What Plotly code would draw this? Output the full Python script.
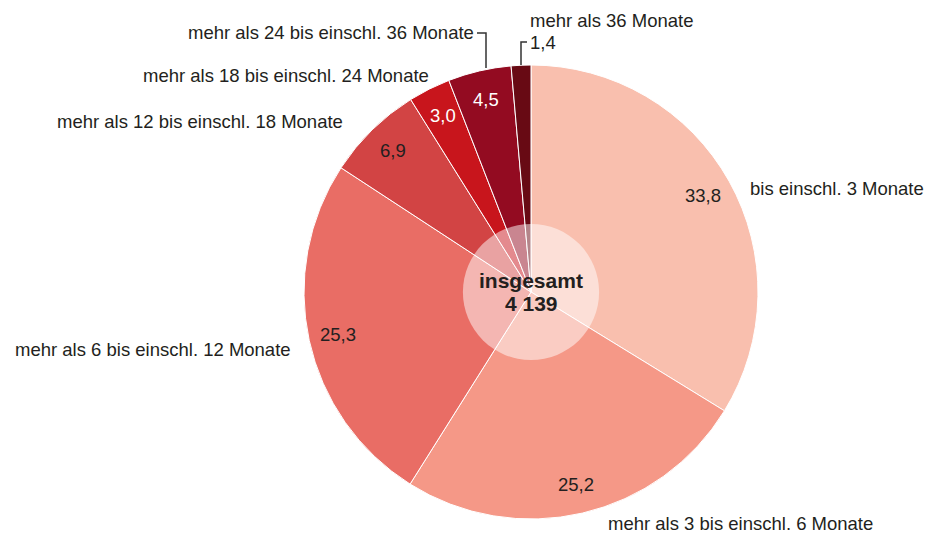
import math
import plotly.graph_objects as go

categories = [
    "bis einschl. 3 Monate",
    "mehr als 3 bis einschl. 6 Monate",
    "mehr als 6 bis einschl. 12 Monate",
    "mehr als 12 bis einschl. 18 Monate",
    "mehr als 18 bis einschl. 24 Monate",
    "mehr als 24 bis einschl. 36 Monate",
    "mehr als 36 Monate",
]
values = [33.8, 25.2, 25.3, 6.9, 3.0, 4.5, 1.4]
value_labels = ["33,8", "25,2", "25,3", "6,9", "3,0", "4,5", "1,4"]
total_title = "insgesamt"
total_value = "4 139"

colors = ["#f9bfae", "#f59887", "#e96d65", "#d24444", "#c8151c", "#930b21", "#680a14"]
value_text_colors = ["#231f20", "#231f20", "#231f20", "#231f20", "#ffffff", "#ffffff", "#231f20"]

W, H = 927, 535
CX, CY, R = 531, 292, 227  # pie centre/radius in window pixels (layout)
FONT = "Liberation Sans, Arial, Helvetica, sans-serif"
TXT = "#231f20"
FS = 18.5

def px(x):
    return x / W

def py(y):
    return 1 - y / H

fig = go.Figure()
fig.add_trace(go.Pie(
    labels=categories, values=values, sort=False, direction="clockwise",
    rotation=0, marker=dict(colors=colors, line=dict(color="white", width=1)),
    textinfo="none", hoverinfo="label+value",
    domain=dict(x=[px(CX - R), px(CX + R)], y=[py(CY + R), py(CY - R)]),
))

annotations = []
total = sum(values)
cum = 0.0
for i, v in enumerate(values):
    mid = (cum + v / 2) / total * 2 * math.pi
    cum += v
    if i == len(values) - 1:
        continue
    rf = 0.87
    x = CX + R * rf * math.sin(mid)
    y = CY - R * rf * math.cos(mid)
    annotations.append(dict(x=px(x), y=py(y), xref="paper", yref="paper",
                            text=value_labels[i], showarrow=False,
                            font=dict(family=FONT, size=FS, color=value_text_colors[i]),
                            xanchor="center", yanchor="middle"))

annotations.append(dict(x=px(528), y=py(42), xref="paper", yref="paper",
                        text=value_labels[-1], showarrow=False,
                        font=dict(family=FONT, size=FS, color=TXT),
                        xanchor="left", yanchor="middle"))

cat_pos = [
    (748, 188, "left"),
    (606, 523, "left"),
    (293, 349, "right"),
    (345, 121, "right"),
    (431, 75, "right"),
    (476, 32, "right"),
    (528, 20, "left"),
]
for name, (x, y, anc) in zip(categories, cat_pos):
    annotations.append(dict(x=px(x), y=py(y), xref="paper", yref="paper",
                            text=name, showarrow=False,
                            font=dict(family=FONT, size=FS, color=TXT),
                            xanchor=anc, yanchor="middle"))

for txt, y in ((total_title, 280), (total_value, 303)):
    annotations.append(dict(x=px(CX), y=py(y), xref="paper", yref="paper",
                            text="<b>" + txt + "</b>", showarrow=False,
                            font=dict(family=FONT, size=21, color=TXT),
                            xanchor="center", yanchor="middle"))

ri = 0.30 * R
shapes = [
    dict(type="circle", xref="paper", yref="paper",
         x0=px(CX - ri), x1=px(CX + ri), y0=py(CY + ri), y1=py(CY - ri),
         fillcolor="rgba(255,255,255,0.5)", line=dict(width=0), layer="above"),
]

def path(points):
    return "M " + " L ".join(f"{px(x)},{py(y)}" for x, y in points)

for pts in ([(477, 33), (486, 33), (486, 68)], [(527, 42), (521, 42), (521, 65)]):
    shapes.append(dict(type="path", xref="paper", yref="paper", path=path(pts),
                       line=dict(color="#333333", width=1.5)))

fig.update_layout(
    width=W, height=H, margin=dict(l=0, r=0, t=0, b=0),
    paper_bgcolor="white", plot_bgcolor="white", showlegend=False,
    annotations=annotations, shapes=shapes,
    font=dict(family=FONT, color=TXT),
)

fig.write_html(
    "out.html",
    config={"displayModeBar": False},
    post_script="document.body.style.margin='0';document.body.style.overflow='hidden';",
)
